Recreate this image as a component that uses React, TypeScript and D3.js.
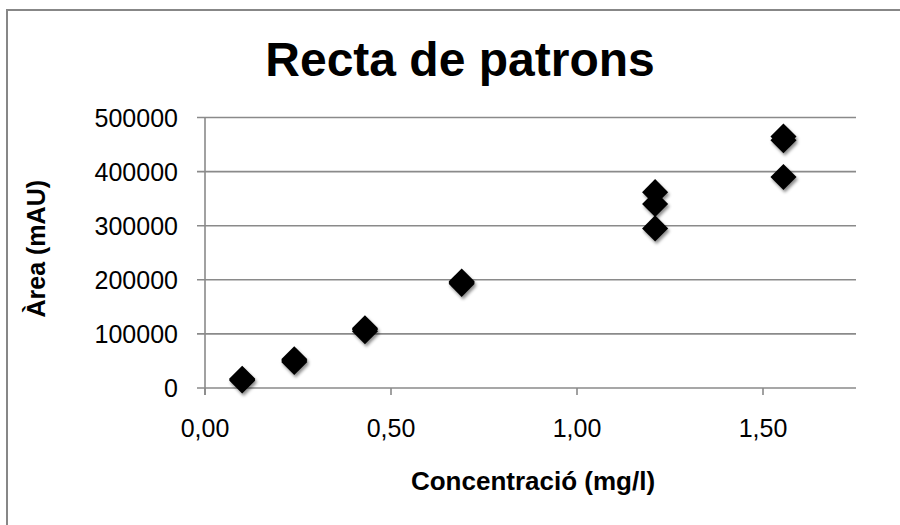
import React from "react";
import * as d3 from "d3";

// Calibration standards: concentration (mg/l) and measured peak area (mAU)
const concentrations = [0.1, 0.1, 0.1, 0.24, 0.24, 0.24, 0.43, 0.43, 0.43, 0.69, 0.69, 0.69, 1.21, 1.21, 1.21, 1.555, 1.555, 1.555];
const areas = [14000, 15500, 17000, 48000, 50500, 53000, 105000, 108000, 110500, 192500, 195000, 197000, 295000, 340000, 362000, 390000, 458000, 465000];

const xTicks = [0, 0.5, 1.0, 1.5];
const yTicks = [0, 100000, 200000, 300000, 400000, 500000];

const title = "Recta de patrons";
const xTitle = "Concentració (mg/l)";
const yTitle = "Àrea (mAU)";

const W = 900;
const H = 525;
const plot = { left: 205, right: 856, top: 117.5, bottom: 388 };

const fmtX = (v: number) => v.toFixed(2).replace(".", ",");
const fmtY = (v: number) => String(v);

export default function App() {
  const x = d3.scaleLinear().domain([0, 1.75]).range([plot.left, plot.right]);
  const y = d3.scaleLinear().domain([0, 500000]).range([plot.bottom, plot.top]);
  const diamond = d3.symbol().type(d3.symbolSquare).size(340)() as string;
  const grid = "#8a8a8a";
  const font = "'Liberation Sans', Arial, sans-serif";

  const points = concentrations.map((c, i) => ({ c, a: areas[i] }));

  return (
    <svg
      width={W}
      height={H}
      viewBox={`0 0 ${W} ${H}`}
      style={{ position: "absolute", left: 0, top: 0, background: "#fff" }}
      fontFamily={font}
    >
      <defs>
        <filter id="markerShadow" x="-50%" y="-50%" width="200%" height="200%">
          <feDropShadow dx="1.5" dy="2.5" stdDeviation="1.5" floodColor="#000" floodOpacity="0.45" />
        </filter>
      </defs>
      <rect x={0} y={0} width={W} height={H} fill="#fff" />
      {/* chart frame */}
      <rect x={7} y={10} width={W + 20} height={H + 20} fill="none" stroke="#878787" strokeWidth={2} />

      <text x={460} y={76} textAnchor="middle" fontSize={48} fontWeight="bold" fill="#000">
        {title}
      </text>

      {/* horizontal gridlines and y ticks */}
      {yTicks.map((t) => (
        <g key={`y${t}`}>
          <line x1={plot.left - 8} x2={plot.right} y1={y(t)} y2={y(t)} stroke={grid} strokeWidth={1.6} />
          <text x={178} y={y(t)} dy="0.36em" textAnchor="end" fontSize={25} fill="#000">
            {fmtY(t)}
          </text>
        </g>
      ))}

      {/* y axis line */}
      <line x1={plot.left} x2={plot.left} y1={plot.top} y2={plot.bottom + 7} stroke={grid} strokeWidth={1.6} />

      {/* x ticks */}
      {xTicks.map((t) => (
        <g key={`x${t}`}>
          <line x1={x(t)} x2={x(t)} y1={plot.bottom} y2={plot.bottom + 7} stroke={grid} strokeWidth={1.6} />
          <text x={x(t)} y={437} textAnchor="middle" fontSize={25} fill="#000">
            {fmtX(t)}
          </text>
        </g>
      ))}

      <text x={533} y={490} textAnchor="middle" fontSize={26} fontWeight="bold" fill="#000">
        {xTitle}
      </text>
      <text
        transform={`translate(45, ${(plot.top + plot.bottom) / 2 - 4}) rotate(-90)`}
        textAnchor="middle"
        fontSize={25}
        fontWeight="bold"
        fill="#000"
      >
        {yTitle}
      </text>

      {/* data markers */}
      <g filter="url(#markerShadow)">
        {points.map((p, i) => (
          <path
            key={i}
            d={diamond}
            transform={`translate(${x(p.c)}, ${y(p.a)}) rotate(45)`}
            fill="#000"
          />
        ))}
      </g>
    </svg>
  );
}
